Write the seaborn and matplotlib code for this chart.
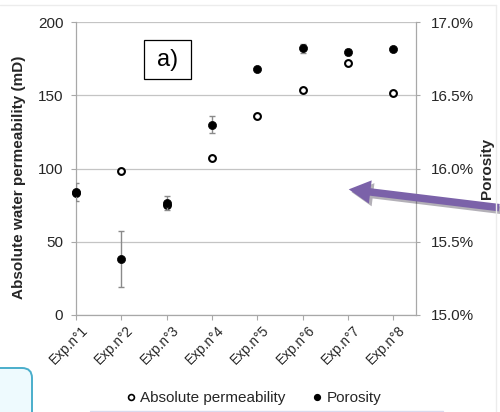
import pandas as pd
import matplotlib
matplotlib.use("Agg")
import matplotlib.pyplot as plt
import matplotlib.transforms as mtransforms
from matplotlib.patches import FancyBboxPatch, FancyArrowPatch, Rectangle
from matplotlib.lines import Line2D
import matplotlib.patheffects as pe
import seaborn as sns

sns.set_style("white")
plt.rcParams['font.family'] = ['Liberation Sans', 'DejaVu Sans']

# data
experiments = ["Exp.n°1", "Exp.n°2", "Exp.n°3", "Exp.n°4",
               "Exp.n°5", "Exp.n°6", "Exp.n°7", "Exp.n°8"]
permeability = [83, 98, 75, 107, 136, 153.5, 172, 151.5]          # mD
porosity = [15.84, 15.38, 15.765, 16.30, 16.68, 16.82, 16.795, 16.815]  # %
porosity_err = [0.06, 0.19, 0.05, 0.06, 0.0, 0.03, 0.02, 0.0]
perm_ticks = [0, 50, 100, 150, 200]
poro_ticks = [15.0, 15.5, 16.0, 16.5, 17.0]

df = pd.DataFrame({"experiment": experiments,
                   "permeability": permeability,
                   "porosity": porosity,
                   "err": porosity_err})

W, H = 500, 412
def fx(px):
    return px / W
def fy(py):
    return 1 - py / H

fig = plt.figure(figsize=(5, 4.12), dpi=100)
ax = fig.add_axes([fx(76), fy(315), (416 - 76) / W, (315 - 22) / H])
ax2 = ax.twinx()

grey = '#a8a8a8'
txt = '#262626'

sns.scatterplot(data=df, x="experiment", y="permeability", ax=ax,
                marker="o", s=24, color="white", edgecolor="black",
                linewidth=1.5, clip_on=False, legend=False, zorder=3)

ax2.errorbar(range(len(experiments)), df["porosity"], yerr=df["err"],
             fmt="none", ecolor="#8a8a8a", elinewidth=1, capsize=2.5,
             capthick=1, zorder=2)
sns.scatterplot(data=df, x="experiment", y="porosity", ax=ax2,
                marker="o", s=34, color="black", edgecolor="black",
                linewidth=0.5, clip_on=False, legend=False, zorder=3)

ax.set_xlim(0, 7.5)
ax.set_ylim(0, 200)
ax.set_yticks(perm_ticks)
ax2.set_ylim(15, 17)
ax2.set_yticks(poro_ticks)
ax2.set_yticklabels([f"{t:.1f}%" for t in poro_ticks])

ax.yaxis.grid(True, color='#c4c4c4', lw=0.9)
ax.xaxis.grid(False)
for s in ["top", "right"]:
    ax.spines[s].set_visible(False)
for s in ["left", "bottom"]:
    ax.spines[s].set_color(grey)
    ax.spines[s].set_linewidth(0.9)
for s in ["top", "left", "bottom"]:
    ax2.spines[s].set_visible(False)
ax2.spines["right"].set_color(grey)
ax2.spines["right"].set_linewidth(0.9)

ax.tick_params(axis='y', left=True, length=3.6, width=0.8, color=grey,
               labelsize=11, labelcolor=txt, pad=5.5)
ax.tick_params(axis='x', bottom=True, length=3.6, width=0.8, color=grey,
               labelsize=9.8, labelcolor=txt, pad=2)
ax2.tick_params(axis='y', right=True, length=3, width=0.8, color=grey,
                labelsize=11, labelcolor=txt, pad=8)

offset = mtransforms.ScaledTranslation(5 / 100, 0, fig.dpi_scale_trans)
for lbl in ax.get_xticklabels():
    lbl.set_rotation(45)
    lbl.set_ha('right')
    lbl.set_rotation_mode('anchor')
    lbl.set_transform(lbl.get_transform() + offset)

ax.set_xlabel("")
ax.set_ylabel("Absolute water permeability (mD)", fontsize=11,
              fontweight='bold', color=txt)
ax.yaxis.set_label_coords((26 - 76) / 340, 0.47)
ax2.set_ylabel("Porosity", fontsize=11, fontweight='bold', color=txt)
ax2.yaxis.set_label_coords((480 - 76) / 340, 0.5)

# "a)" label box
fig.add_artist(Rectangle((fx(144), fy(79)), 47 / W, 39 / H,
                         transform=fig.transFigure, fill=False,
                         ec='black', lw=0.9))
fig.text(fx(167.5), fy(60), "a)", fontsize=17, ha='center', va='center',
         color='black')

# legend under the axes
handles = [Line2D([], [], ls='none', marker='o', ms=4.2, mfc='white',
                  mec='black', mew=1.2, label="Absolute permeability"),
           Line2D([], [], ls='none', marker='o', ms=4.2, mfc='black',
                  mec='black', label="Porosity")]
fig.legend(handles=handles, loc='center', bbox_to_anchor=(fx(252), fy(398)),
           ncol=2, frameon=False, fontsize=11, handletextpad=0.1,
           columnspacing=1.6, handlelength=1.0, labelcolor=txt)
fig.add_artist(Line2D([fx(90), fx(443)], [fy(411), fy(411)],
                      transform=fig.transFigure, color='#d9d9ee', lw=1))

# purple arrow pointing into the plot
arrow = FancyArrowPatch((fx(502), fy(208)), (fx(346), fy(189)),
                        transform=fig.transFigure,
                        arrowstyle="simple,head_length=1.3,head_width=1.4,tail_width=0.45",
                        mutation_scale=12, color='#7b62a9', lw=0,
                        path_effects=[pe.withSimplePatchShadow(offset=(2, -2),
                                                               alpha=0.35)])
fig.add_artist(arrow)

# rounded blue box at bottom-left corner
fig.add_artist(FancyBboxPatch((-20, -18), 52, 62,
                              boxstyle="round,pad=0,rounding_size=10",
                              transform=mtransforms.IdentityTransform(),
                              fc='#eefafe', ec='#4aaecb', lw=1.4))

# faint page frame
fig.add_artist(Line2D([0, fx(496)], [fy(5), fy(5)],
                      transform=fig.transFigure, color='#ececec', lw=1))
fig.add_artist(Line2D([fx(496), fx(496)], [fy(5), 0],
                      transform=fig.transFigure, color='#ececec', lw=1))

fig.savefig("out.png", dpi=100)
